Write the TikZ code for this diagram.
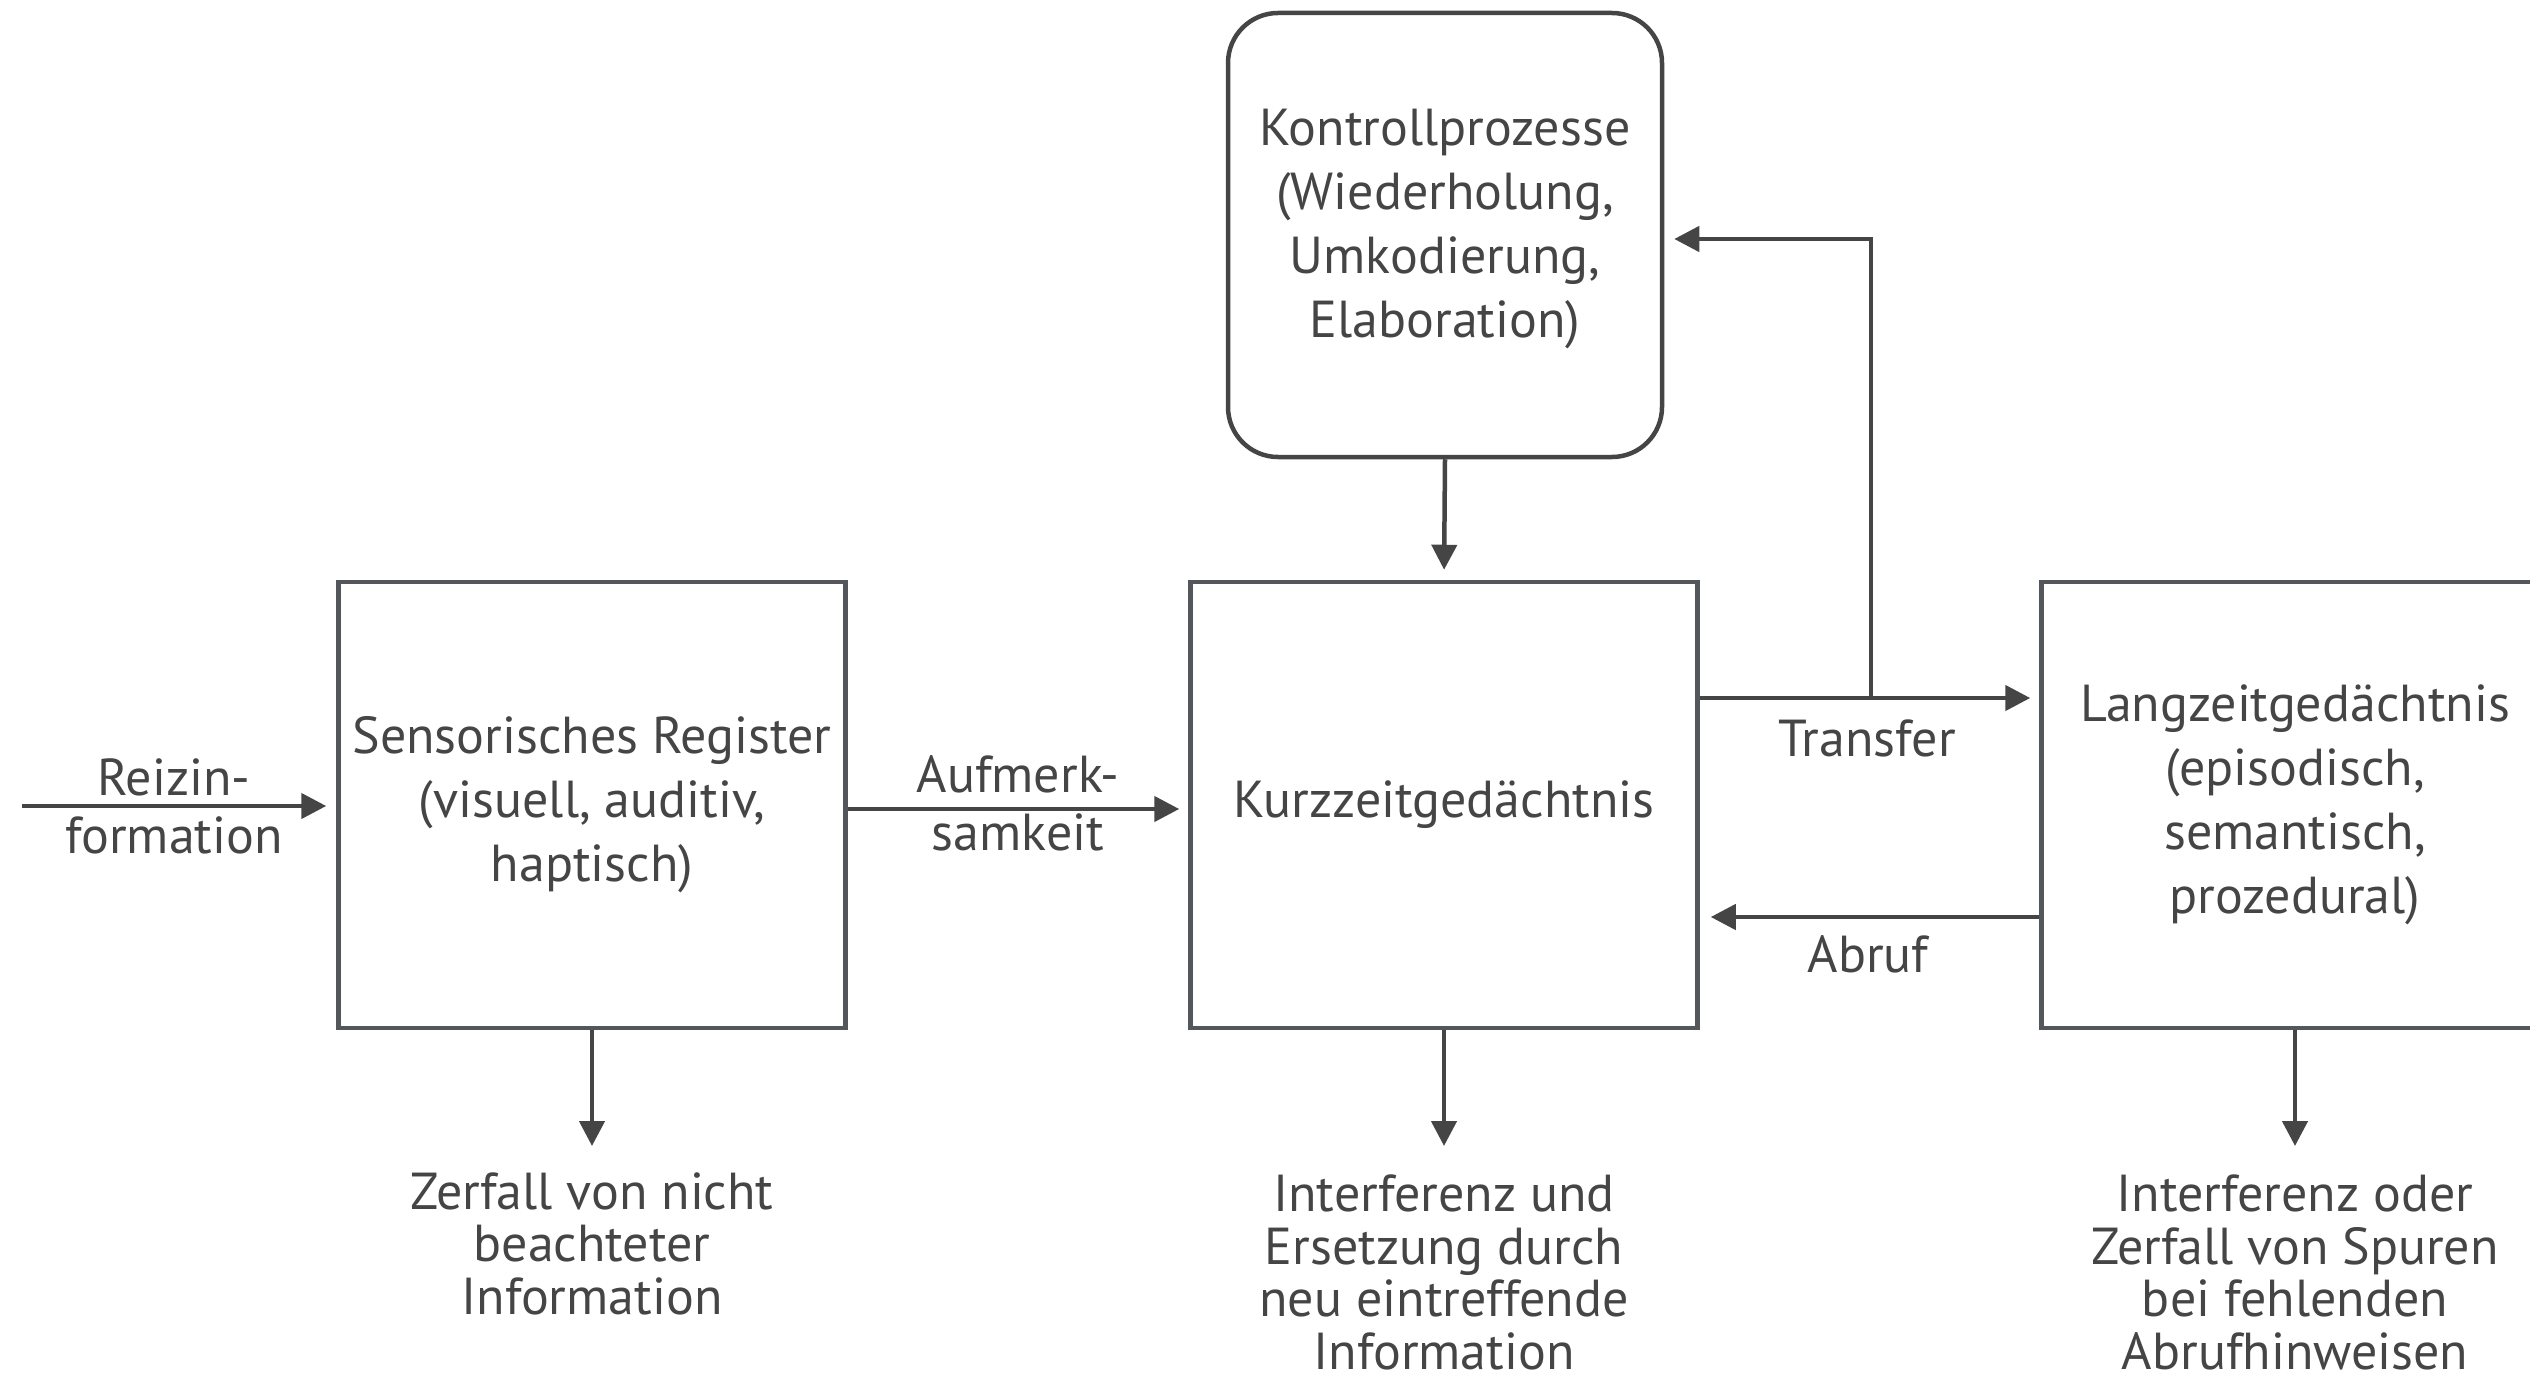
\documentclass[tikz,border=0pt]{standalone}
\usepackage{fontspec}
\setmainfont{PT Sans}
\usetikzlibrary{arrows.meta}
\definecolor{ink}{HTML}{454545}
\definecolor{frame}{HTML}{53575C}
\begin{document}
\begin{tikzpicture}[x=1pt,y=-1pt,
  every node/.style={text=ink, font=\fontsize{52}{64}\selectfont},
  store/.style={draw=frame, line width=4.5pt, minimum width=507pt,
    minimum height=446pt, inner sep=0pt, align=center},
  ctrl/.style={draw=ink, line width=4.5pt, rounded corners=50pt,
    minimum width=434pt, minimum height=444pt, inner sep=0pt},
  flow/.style={draw=ink, line width=4.5pt, -{Triangle[length=25pt,width=25pt]}},
  tag/.style={align=center, inner sep=0pt, font=\fontsize{52}{58}\selectfont},
  note/.style={align=center, inner sep=0pt, anchor=north,
    font=\fontsize{52}{52.5}\selectfont}]
\useasboundingbox (0,0) rectangle (2530,1380);
\clip (0,0) rectangle (2530,1380);

% memory stores
\node[store] (sens) at (592,805) {Sensorisches Register\\(visuell, auditiv,\\haptisch)};
\node[store] (kurz) at (1444,805) {Kurzzeitgedächtnis};
\node[store] (lang) at (2295,805) {Langzeitgedächtnis\\(episodisch,\\semantisch,\\prozedural)};

% control processes: rounded frame with its text set slightly above centre
\node[ctrl] (kontroll) at (1445,235) {};
\node[align=center, inner sep=0pt] (kontrolltext) at (1445,229)
  {Kontrollprozesse\\(Wiederholung,\\Umkodierung,\\Elaboration)};

% free ends of the connectors
\coordinate (src) at (22,806);
\coordinate (split) at (1871,698);
\coordinate (bend) at (1871,239);
\coordinate (sensout) at (592,1146);
\coordinate (kurzout) at (1444,1146);
\coordinate (langout) at (2295,1146);

% connectors
\draw[flow, shorten >=10pt] (src) -- (src -| sens.west);
\draw[flow, shorten >=9pt] ([yshift=-4pt]sens.east) -- ([yshift=-4pt]kurz.west);
\draw[flow, shorten >=10pt] (kontroll.south) -- (kurz.north);
\draw[flow, shorten >=9pt] ([yshift=107pt]kurz.east) -- ([yshift=107pt]lang.west);
\draw[flow, shorten >=10pt] (split) -- (bend) -- (bend -| kontroll.east);
\draw[flow, shorten >=11pt] ([yshift=-112pt]lang.west) -- ([yshift=-112pt]kurz.east);
\draw[flow] (sens.south) -- (sensout);
\draw[flow] (kurz.south) -- (kurzout);
\draw[flow] (lang.south) -- (langout);

% connector labels
\node[tag] (reiz) at (174,806) {Reizin-\\formation};
\node[tag] (aufm) at (1018,803) {Aufmerk-\\samkeit};
\node[tag, anchor=base] (trans) at (1867,756) {Transfer};
\node[tag, anchor=base] (abruf) at (1868,972) {Abruf};

% outcomes below the stores
\node[note] (sensnote) at (592,1172) {Zerfall von nicht\\beachteter\\Information};
\node[note] (kurznote) at (1444,1175) {Interferenz und\\Ersetzung durch\\neu eintreffende\\Information};
\node[note] (langnote) at (2295,1175) {Interferenz oder\\Zerfall von Spuren\\bei fehlenden\\Abrufhinweisen};
\end{tikzpicture}
\end{document}
